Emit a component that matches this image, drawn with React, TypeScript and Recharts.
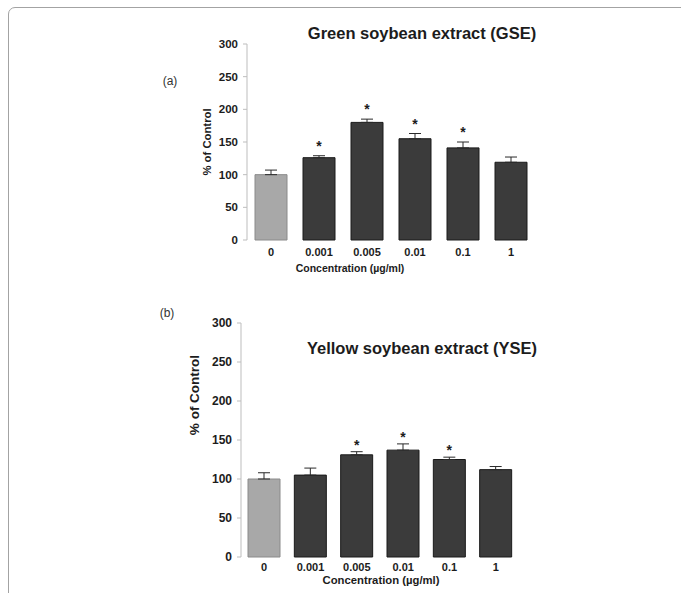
import React from "react";
import {
  ComposedChart,
  Bar,
  Cell,
  XAxis,
  YAxis,
  ErrorBar,
  LabelList,
} from "recharts";

const concentrations = ["0", "0.001", "0.005", "0.01", "0.1", "1"];
const yTicks = [0, 50, 100, 150, 200, 250, 300];

// Green soybean extract (GSE)
const gseMean = [100, 126, 180, 155, 141, 119];
const gseErr = [7, 3, 5, 8, 9, 8];
const gseSig = [false, true, true, true, true, false];

// Yellow soybean extract (YSE)
const yseMean = [100, 105, 131, 137, 125, 112];
const yseErr = [8, 9, 4, 8, 3, 4];
const yseSig = [false, false, true, true, true, false];

const FONT = "'Liberation Sans', Arial, sans-serif";
const AXIS = "#bdbdbd";
const INK = "#1c1c1c";

function buildRows(mean: number[], err: number[], sig: boolean[]) {
  return concentrations.map((c, i) => ({
    name: c,
    value: mean[i],
    err: [0, err[i]],
    sig: sig[i],
  }));
}

interface PanelProps {
  rows: { name: string; value: number; err: number[]; sig: boolean }[];
  top: number;
  width: number;
  height: number;
  margin: { top: number; right: number; bottom: number; left: number };
  yFont: number;
  xFont: number;
  xTickGap: number;
  starLift: number;
}

function Panel({ rows, top, width, height, margin, yFont, xFont, xTickGap, starLift }: PanelProps) {
  const bounds = concentrations.map((_, i) => i).concat(concentrations.length);

  const star = (props: any) => {
    const { x, y, width: w, height: h, value, index } = props;
    const row = rows[index];
    if (!row || !row.sig) return null;
    const pxPerUnit = Number(h) / Number(value);
    const errTop = Number(y) - row.err[1] * pxPerUnit;
    return (
      <text
        x={Number(x) + Number(w) / 2}
        y={errTop - starLift}
        textAnchor="middle"
        fontSize={14}
        fontWeight="bold"
        fontFamily={FONT}
        fill={INK}
      >
        *
      </text>
    );
  };

  return (
    <div style={{ position: "absolute", left: 0, top }}>
      <ComposedChart width={width} height={height} data={rows} margin={margin}>
        <XAxis
          xAxisId="bounds"
          type="number"
          domain={[0, concentrations.length]}
          ticks={bounds}
          allowDataOverflow
          height={0}
          tickSize={4}
          tickFormatter={() => ""}
          axisLine={{ stroke: AXIS }}
          tickLine={{ stroke: AXIS }}
        />
        <XAxis
          xAxisId="cat"
          dataKey="name"
          axisLine={false}
          tickLine={false}
          tickSize={xTickGap}
          tickMargin={0}
          height={30}
          interval={0}
          tick={{ fontSize: xFont, fontWeight: "bold", fill: INK, fontFamily: FONT }}
        />
        <YAxis
          domain={[0, 300]}
          ticks={yTicks}
          width={60}
          tickSize={4}
          tickMargin={5}
          axisLine={{ stroke: AXIS }}
          tickLine={{ stroke: AXIS }}
          tick={{ fontSize: yFont, fontWeight: "bold", fill: INK, fontFamily: FONT }}
        />
        <Bar xAxisId="cat" dataKey="value" barSize={32} isAnimationActive={false}>
          {rows.map((r, i) => (
            <Cell
              key={r.name}
              fill={i === 0 ? "#a8a8a8" : "#3b3b3b"}
              stroke={i === 0 ? "#8a8a8a" : "#1a1a1a"}
              strokeWidth={1}
            />
          ))}
          <ErrorBar
            dataKey="err"
            direction="y"
            width={6}
            stroke="#2a2a2a"
            strokeWidth={1}
            isAnimationActive={false}
          />
          <LabelList dataKey="value" content={star} />
        </Bar>
      </ComposedChart>
    </div>
  );
}

export default function App() {
  const gseRows = buildRows(gseMean, gseErr, gseSig);
  const yseRows = buildRows(yseMean, yseErr, yseSig);

  return (
    <div
      style={{
        position: "absolute",
        left: 0,
        top: 0,
        width: 681,
        height: 593,
        background: "#ffffff",
        overflow: "hidden",
        fontFamily: FONT,
      }}
    >
      <div
        style={{
          position: "absolute",
          left: 8,
          top: 7,
          width: 700,
          height: 620,
          border: "1px solid #a3a3a3",
          borderRadius: 7,
          boxShadow: "1px 1px 0 #d6d6d6",
        }}
      />
      <Panel
        rows={gseRows}
        top={0}
        width={681}
        height={290}
        margin={{ top: 44, right: 146, bottom: 20, left: 187 }}
        yFont={11.5}
        xFont={11}
        xTickGap={8}
        starLift={5}
      />
      <Panel
        rows={yseRows}
        top={290}
        width={681}
        height={303}
        margin={{ top: 33, right: 162, bottom: 6, left: 181 }}
        yFont={12}
        xFont={11}
        xTickGap={6}
        starLift={2}
      />
      <svg
        width={681}
        height={593}
        style={{ position: "absolute", left: 0, top: 0, pointerEvents: "none" }}
        fontFamily={FONT}
        fill={INK}
      >
        <text x={422} y={39} textAnchor="middle" fontSize={16.5} fontWeight="bold">
          Green soybean extract (GSE)
        </text>
        <text x={422} y={354} textAnchor="middle" fontSize={16.5} fontWeight="bold">
          Yellow soybean extract (YSE)
        </text>
        <text x={170} y={85} textAnchor="middle" fontSize={12} fill="#333">
          (a)
        </text>
        <text x={167} y={317} textAnchor="middle" fontSize={12} fill="#333">
          (b)
        </text>
        <text
          x={207}
          y={142}
          textAnchor="middle"
          dominantBaseline="central"
          fontSize={11.3}
          fontWeight="bold"
          transform="rotate(-90 207 142)"
        >
          % of Control
        </text>
        <text
          x={194}
          y={395}
          textAnchor="middle"
          dominantBaseline="central"
          fontSize={13.5}
          fontWeight="bold"
          transform="rotate(-90 194 395)"
        >
          % of Control
        </text>
        <text x={350} y={272} textAnchor="middle" fontSize={10.5} fontWeight="bold">
          Concentration (µg/ml)
        </text>
        <text x={381} y={584} textAnchor="middle" fontSize={11.3} fontWeight="bold">
          Concentration (µg/ml)
        </text>
      </svg>
    </div>
  );
}
